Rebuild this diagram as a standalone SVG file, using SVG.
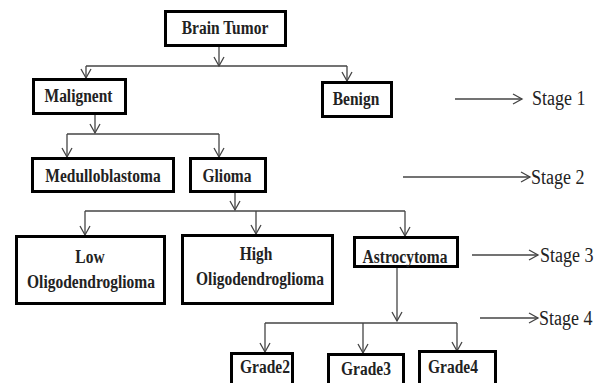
<svg xmlns="http://www.w3.org/2000/svg" width="605" height="383" viewBox="0 0 605 383">
<style>
.box{fill:#fff;stroke:#000;stroke-width:3}
.lbl{font-family:'Liberation Serif',serif;font-weight:bold;font-size:15.5px;fill:#222;text-anchor:middle}
.stg{font-family:'Liberation Serif',serif;font-size:18px;fill:#222}
.con{fill:none;stroke:#444;stroke-width:1.3}
</style>
<defs>
<marker id="ah" viewBox="-11 -7 13 14" refX="0" refY="0" markerWidth="13" markerHeight="14" markerUnits="userSpaceOnUse" orient="auto">
<path d="M-9,-5 L0,0 L-9,5" fill="none" stroke="#444" stroke-width="1.3"/>
</marker>
</defs>
<rect width="605" height="383" fill="#fff"/>
<g id="connectors" class="con">
<path d="M219 47 V66" marker-end="url(#ah)"/>
<path d="M86 66 H347"/>
<path d="M86 66 V78" marker-end="url(#ah)"/>
<path d="M347 66 V81" marker-end="url(#ah)"/>
<path d="M95 115 V133" marker-end="url(#ah)"/>
<path d="M67 134 H219"/>
<path d="M67 134 V157" marker-end="url(#ah)"/>
<path d="M219 134 V157" marker-end="url(#ah)"/>
<path d="M235 193 V210" marker-end="url(#ah)"/>
<path d="M85 211 H405"/>
<path d="M85 211 V235" marker-end="url(#ah)"/>
<path d="M256 211 V234" marker-end="url(#ah)"/>
<path d="M405 211 V236" marker-end="url(#ah)"/>
<path d="M397 268 V321" marker-end="url(#ah)"/>
<path d="M265 323 H457"/>
<path d="M265 323 V352" marker-end="url(#ah)"/>
<path d="M363 323 V353" marker-end="url(#ah)"/>
<path d="M457 323 V351" marker-end="url(#ah)"/>
<path d="M455 99 H522" marker-end="url(#ah)"/>
<path d="M403 177 H530" marker-end="url(#ah)"/>
<path d="M472 255 H538" marker-end="url(#ah)"/>
<path d="M480 318 H538" marker-end="url(#ah)"/>
</g>
<g id="brain-tumor"><rect class="box" x="165.5" y="11.5" width="120" height="34"/><text class="lbl" font-family="Liberation Serif" transform="translate(225 34) scale(1 1.2)">Brain Tumor</text></g>
<g id="malignent"><rect class="box" x="33.5" y="79.5" width="92" height="34"/><text class="lbl" transform="translate(78.5 101.5) scale(1 1.2)">Malignent</text></g>
<g id="benign"><rect class="box" x="322.5" y="82.5" width="69" height="34"/><text class="lbl" transform="translate(356 105) scale(1 1.2)">Benign</text></g>
<g id="medulloblastoma"><rect class="box" x="32.5" y="158.5" width="141" height="33"/><text class="lbl" transform="translate(103 181.5) scale(1 1.2)">Medulloblastoma</text></g>
<g id="glioma"><rect class="box" x="190.5" y="158.5" width="75" height="33"/><text class="lbl" transform="translate(227 181.5) scale(1 1.2)">Glioma</text></g>
<g id="low-oligo"><rect class="box" x="16.5" y="236.5" width="148" height="67"/><text class="lbl" transform="translate(90 263) scale(1 1.2)">Low</text><text class="lbl" transform="translate(91 288) scale(1 1.2)">Oligodendroglioma</text></g>
<g id="high-oligo"><rect class="box" x="182.5" y="235.5" width="150" height="68"/><text class="lbl" transform="translate(256 260) scale(1 1.2)">High</text><text class="lbl" transform="translate(260 285) scale(1 1.2)">Oligodendroglioma</text></g>
<g id="astrocytoma"><rect class="box" x="354.5" y="237.5" width="103" height="29"/><text class="lbl" transform="translate(405 263) scale(1 1.2)">Astrocytoma</text></g>
<g id="grade2"><rect class="box" x="231.5" y="353.5" width="61" height="36"/><text class="lbl" transform="translate(265 373) scale(1 1.2)">Grade2</text></g>
<g id="grade3"><rect class="box" x="328.5" y="354.5" width="75" height="36"/><text class="lbl" transform="translate(366 375) scale(1 1.2)">Grade3</text></g>
<g id="grade4"><rect class="box" x="419.5" y="351.5" width="76" height="36"/><text class="lbl" transform="translate(453 373) scale(1 1.2)">Grade4</text></g>
<g id="stage-labels">
<text class="stg" transform="translate(532 105) scale(1 1.2)">Stage 1</text>
<text class="stg" transform="translate(531 184) scale(1 1.2)">Stage 2</text>
<text class="stg" transform="translate(540 262) scale(1 1.2)">Stage 3</text>
<text class="stg" transform="translate(539 325) scale(1 1.2)">Stage 4</text>
</g>
</svg>
